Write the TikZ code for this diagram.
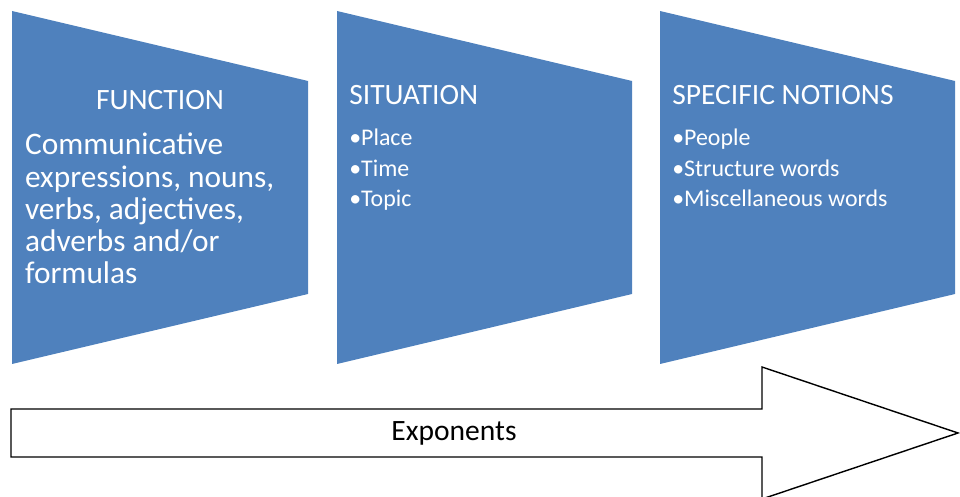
\documentclass[tikz,border=0pt]{standalone}
\usepackage{fontspec}
\setmainfont{Carlito}
\usepackage{tikz}

\definecolor{panelblue}{HTML}{4F81BD}

\tikzset{
	panel/.style={fill=panelblue, draw=none},
	headtext/.style={white, inner sep=0pt, font=\fontsize{21}{25}\selectfont},
	itemtext/.style={white, inner sep=0pt, anchor=base west, font=\fontsize{17}{20}\selectfont},
	bodytext/.style={white, inner sep=0pt, anchor=north west, align=left, font=\fontsize{22.3}{22.8}\selectfont}
}

\begin{document}
\begin{tikzpicture}
			\useasboundingbox (0, 0) rectangle (24, 12.425);

			% three panels
			\draw [panel] (0.3, 12.15) -- (7.7, 10.4) -- (7.7, 5.075) -- (0.3, 3.325) -- cycle;
			\draw [panel] (8.425, 12.15) -- (15.8, 10.4) -- (15.8, 5.075) -- (8.425, 3.325) -- cycle;
			\draw [panel] (16.5, 12.15) -- (23.875, 10.4) -- (23.875, 5.075) -- (16.5, 3.325) -- cycle;

			\node [headtext, anchor=base] (func) at (4.0, 9.675) {FUNCTION};
			\node [bodytext] (funcbody) at (0.62, 9.1) {Communicative\\expressions, nouns,\\verbs, adjectives,\\adverbs and/or\\formulas};

			\node [headtext, anchor=base west] (sit) at (8.725, 9.8) {SITUATION};
			\node [itemtext] (sitplace) at (8.725, 8.78) {•Place};
			\node [itemtext] (sittime) at (8.725, 8.0175) {•Time};
			\node [itemtext] (sittopic) at (8.725, 7.255) {•Topic};

			\node [headtext, anchor=base west] (spec) at (16.8, 9.8) {SPECIFIC NOTIONS};
			\node [itemtext] (specpeople) at (16.8, 8.78) {•People};
			\node [itemtext] (specstruct) at (16.8, 8.0175) {•Structure words};
			\node [itemtext] (specmisc) at (16.8, 7.255) {•Miscellaneous words};

			% exponents arrow
			\draw [line width=1pt, black, fill=white] (0.275, 2.2) -- (19.05, 2.2) -- (19.05, 3.25)
			-- (23.95, 1.6) -- (19.05, -0.05) -- (19.05, 1.0) -- (0.275, 1.0) -- cycle;
			\node [black, font=\fontsize{21}{25}\selectfont] (expo) at (11.35, 1.6) {Exponents};
		\end{tikzpicture}
\end{document}
